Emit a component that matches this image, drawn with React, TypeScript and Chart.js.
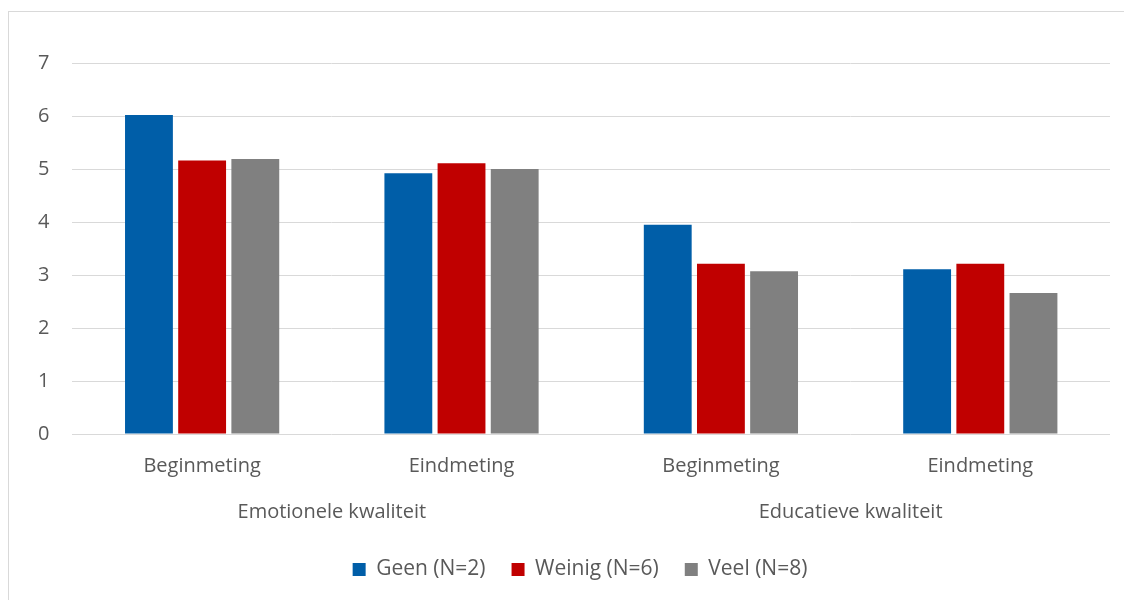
import React, { useEffect, useRef } from "react";
import { Chart, registerables } from "chart.js";

Chart.register(...registerables);

const categories = ["Beginmeting", "Eindmeting", "Beginmeting", "Eindmeting"];
const groups = ["Emotionele kwaliteit", "Educatieve kwaliteit"];
const geen = [6.02, 4.92, 3.95, 3.11];
const weinig = [5.16, 5.11, 3.21, 3.21];
const veel = [5.19, 5.0, 3.07, 2.66];
const seriesNames = ["Geen (N=2)", "Weinig (N=6)", "Veel (N=8)"];
const colors = ["#005EA8", "#C00000", "#808080"];

const FONT = "'Open Sans', 'Liberation Sans', sans-serif";
const SIZE = 20;

export default function App() {
  const ref = useRef<HTMLCanvasElement>(null);
  useEffect(() => {
    if (!ref.current) return;
    const chart = new Chart(ref.current, {
      type: "bar",
      data: {
        labels: categories,
        datasets: [geen, weinig, veel].map((d, i) => ({
          label: seriesNames[i],
          data: d,
          backgroundColor: colors[i],
          categoryPercentage: 0.615,
          barPercentage: 0.9,
        })),
      },
      options: {
        animation: false,
        responsive: true,
        maintainAspectRatio: false,
        layout: { padding: { top: 51, right: 0, left: 6, bottom: 10 } },
        plugins: {
          legend: {
            position: "bottom",
            labels: {
              boxWidth: 13,
              boxHeight: 13,
              padding: 26,
              color: "#595959",
              font: { family: FONT, size: 21 },
            },
          },
          tooltip: { enabled: false },
        },
        scales: {
          x: {
            grid: { display: false },
            border: { display: false },
            ticks: { color: "#595959", font: { family: FONT, size: SIZE }, padding: 12 },
          },
          x2: {
            type: "category",
            labels: groups,
            position: "bottom",
            offset: true,
            grid: { display: false },
            border: { display: false },
            ticks: {
              color: "#595959",
              font: { family: FONT, size: SIZE },
              padding: 2,
            },
            afterFit: (s: any) => {
              s.height += 7;
            },
          },
          y: {
            min: 0,
            max: 7,
            ticks: { stepSize: 1, color: "#595959", font: { family: FONT, size: SIZE }, padding: 23 },
            grid: { color: "#D9D9D9", lineWidth: 1, drawTicks: false },
            border: { display: false },
          },
          yR: {
            type: "linear",
            position: "right",
            display: true,
            min: 0,
            max: 7,
            ticks: { display: false },
            grid: { display: false },
            border: { display: false },
            afterFit: (s: any) => {
              s.width = 35;
            },
          },
        },
      },
    });
    return () => chart.destroy();
  }, []);
  return (
    <div style={{ width: 1124, height: 592, overflow: "hidden" }}>
      <div
        style={{
          width: 1136,
          height: 588,
          marginTop: 3,
          borderLeft: "1px solid #D9D9D9",
          borderTop: "1px solid #D9D9D9",
          position: "relative",
        }}
      >
        <canvas ref={ref} />
      </div>
    </div>
  );
}
